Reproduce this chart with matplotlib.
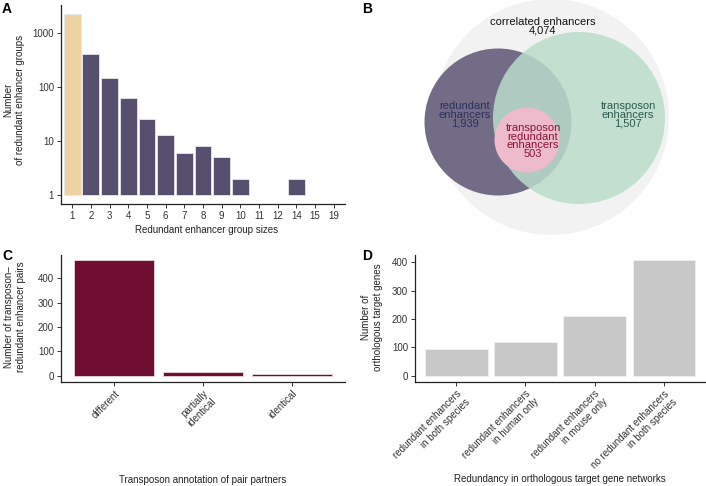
import numpy as np
import matplotlib
matplotlib.use("Agg")
import matplotlib.pyplot as plt
from matplotlib.patches import Circle

plt.rcParams['font.family'] = ['Liberation Sans', 'DejaVu Sans']
plt.rcParams['font.size'] = 7

# panel A
group_sizes = ['1', '2', '3', '4', '5', '6', '7', '8', '9', '10', '11', '12', '14', '15', '19']
group_counts = [2190, 407, 145, 62, 26, 13, 6, 8, 5, 2, 1, 1, 2, 1, 1]

# panel B
venn_names = ['correlated enhancers', 'redundant\nenhancers', 'transposon\nenhancers',
              'transposon\nredundant\nenhancers']
venn_counts = ['4,074', '1,939', '1,507', '503']

# panel C
pair_types = ['different', 'partially\nidentical', 'identical']
pair_counts = [474, 15, 7]

# panel D
network_cats = ['redundant enhancers\nin both species', 'redundant enhancers\nin human only',
                'redundant enhancers\nin mouse only', 'no redundant enhancers\nin both species']
gene_counts = [93, 118, 209, 407]

W, H = 706, 486
fig = plt.figure(figsize=(W / 100, H / 100), dpi=100)


def px_axes(left, top, right, bottom):
    return fig.add_axes([left / W, 1 - bottom / H, (right - left) / W, (bottom - top) / H])


def classic(ax):
    for s in ['top', 'right']:
        ax.spines[s].set_visible(False)
    for s in ['left', 'bottom']:
        ax.spines[s].set_linewidth(0.9)
        ax.spines[s].set_color('#222222')
    ax.tick_params(length=3, width=0.7, color='#333333', labelcolor='#333333', labelsize=7, pad=2)


# ---- A ----
axA = px_axes(61, 5, 345, 204.5)
xa = np.arange(len(group_sizes))
colsA = ['#EDD3A3'] + ['#56506E'] * (len(group_sizes) - 1)
lwA = [0.6 if c > 1 else 0 for c in group_counts]
axA.bar(xa, np.array(group_counts) - 1, bottom=1, width=0.9, color=colsA,
        edgecolor='#E8E8EE', linewidth=lwA)
axA.set_yscale('log')
lo, hi = 0, np.log10(max(group_counts))
ex = (hi - lo) * 0.05
axA.set_ylim(10 ** (lo - ex), 10 ** (hi + ex))
axA.set_xlim(-0.6, len(group_sizes) - 0.4)
axA.set_yticks([1, 10, 100, 1000])
axA.set_yticklabels(['1', '10', '100', '1000'])
axA.yaxis.set_minor_locator(matplotlib.ticker.NullLocator())
axA.set_xticks(xa)
axA.set_xticklabels(group_sizes)
classic(axA)
fig.text(14 / W, 1 - 100 / H, 'Number\nof redundant enhancer groups', rotation=90,
         ha='center', va='center', fontsize=7, color='#222222')
fig.text(207 / W, 1 - 230 / H, 'Redundant enhancer group sizes', ha='center', va='center',
         fontsize=7, color='#222222')

# ---- B ----
axB = px_axes(360, 0, 706, 240)
axB.set_xlim(360, 706)
axB.set_ylim(240, 0)
axB.set_aspect('equal')
axB.axis('off')
axB.add_patch(Circle((551, 117), 118, facecolor='#F2F2F2', edgecolor='none'))
axB.add_patch(Circle((498, 122), 73.5, facecolor='#736C86', edgecolor='none'))
axB.add_patch(Circle((579, 118), 86, facecolor='#BADCCB', alpha=0.86, edgecolor='none'))
axB.add_patch(Circle((527, 140), 32.5, facecolor='#EDBBCB', edgecolor='none'))
venn_pos = [(542.5, 26.5), (465, 115), (628, 115), (533, 141)]
venn_cols = ['#111111', '#2D2F5C', '#2E5B4E', '#8A1538']
for name, cnt, (tx, ty), c in zip(venn_names, venn_counts, venn_pos, venn_cols):
    axB.text(tx, ty, name + '\n' + cnt, ha='center', va='center', fontsize=8,
             color=c, linespacing=0.85)

# ---- C ----
axC = px_axes(61, 254.5, 345, 381.5)
xc = np.arange(len(pair_types))
axC.bar(xc, pair_counts, width=0.9, color='#6F0E30', edgecolor='#E8D8DE', linewidth=0.6)
axC.set_xlim(-0.6, len(pair_types) - 0.4)
axC.set_ylim(-max(pair_counts) * 0.05, max(pair_counts) * 1.05)
axC.set_yticks([0, 100, 200, 300, 400])
axC.set_xticks(xc)
axC.set_xticklabels(pair_types, rotation=45, ha='right', va='top', rotation_mode='anchor',
                    multialignment='right')
classic(axC)
fig.text(15 / W, 1 - 317 / H, 'Number of transposon\u2013\nredundant enhancer pairs', rotation=90,
         ha='center', va='center', fontsize=7, color='#222222')
fig.text(203 / W, 1 - 480 / H, 'Transposon annotation of pair partners', ha='center',
         va='center', fontsize=7, color='#222222')

# ---- D ----
axD = px_axes(415, 254.5, 705, 381.5)
xd = np.arange(len(network_cats))
axD.bar(xd, gene_counts, width=0.9, color='#C8C8C8', edgecolor='#F0F0F0', linewidth=0.6)
axD.set_xlim(-0.6, len(network_cats) - 0.4)
axD.set_ylim(-max(gene_counts) * 0.05, max(gene_counts) * 1.05)
axD.set_yticks([0, 100, 200, 300, 400])
axD.set_xticks(xd)
axD.set_xticklabels(network_cats, rotation=45, ha='right', va='top', rotation_mode='anchor',
                    multialignment='right')
classic(axD)
fig.text(372 / W, 1 - 317 / H, 'Number of\northologous target genes', rotation=90,
         ha='center', va='center', fontsize=7, color='#222222')
fig.text(560 / W, 1 - 479 / H, 'Redundancy in orthologous target gene networks', ha='center',
         va='center', fontsize=7, color='#222222')

# panel letters
for lab, (lx, ly) in zip('ABCD', [(7, 9), (367, 9), (7, 256), (367, 256)]):
    fig.text(lx / W, 1 - ly / H, lab, ha='center', va='center', fontsize=10, fontweight='bold')

fig.savefig('out.png', dpi=100)
